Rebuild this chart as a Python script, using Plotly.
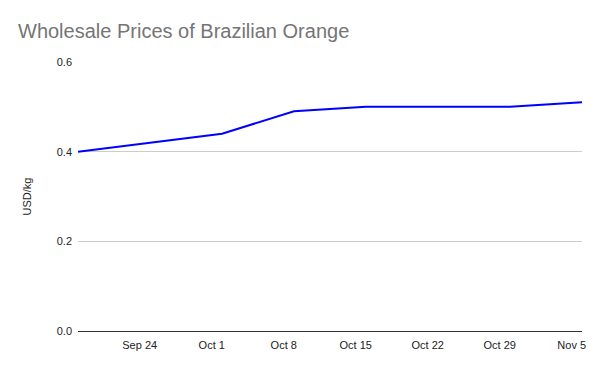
import plotly.graph_objects as go

dates = ["2023-09-18", "2023-09-25", "2023-10-02", "2023-10-09", "2023-10-16",
         "2023-10-23", "2023-10-30", "2023-11-06"]
prices = [0.40, 0.42, 0.44, 0.49, 0.50, 0.50, 0.50, 0.51]
y_ticks = [0.0, 0.2, 0.4, 0.6]
y_labels = ["0.0", "0.2", "0.4", "0.6"]

fig = go.Figure(go.Scatter(x=dates, y=prices, mode="lines",
                           line=dict(color="#0000ff", width=2)))

fig.update_layout(
    width=592, height=363,
    margin=dict(l=70, r=18, t=54, b=40),
    paper_bgcolor="white", plot_bgcolor="white",
    font=dict(family="Liberation Sans, Arial, sans-serif", size=11, color="#222222"),
    title=dict(text="Wholesale Prices of Brazilian Orange", x=10 / 592, xanchor="left",
               y=1 - 23 / 363, yanchor="middle",
               font=dict(size=20, color="#757575")),
    showlegend=False,
)
fig.update_xaxes(range=["2023-09-18", "2023-11-06"], tickformat="%b %-d",
                 dtick=7 * 24 * 3600 * 1000, tick0="2023-09-24",
                 showgrid=False, showline=False, ticks="", zeroline=False,
                 ticklabelstandoff=6,
                 tickfont=dict(size=11, color="#222222"))
fig.update_yaxes(range=[0, 0.6], tickvals=y_ticks, ticktext=y_labels,
                 showgrid=True, gridcolor="#cccccc", gridwidth=1,
                 zeroline=True, zerolinecolor="#333333", zerolinewidth=1,
                 title=dict(text="USD/kg", font=dict(size=11, color="#222222"), standoff=22),
                 tickfont=dict(size=11, color="#222222"), ticks="", ticklabelstandoff=5)

fig.write_html("out.html")
